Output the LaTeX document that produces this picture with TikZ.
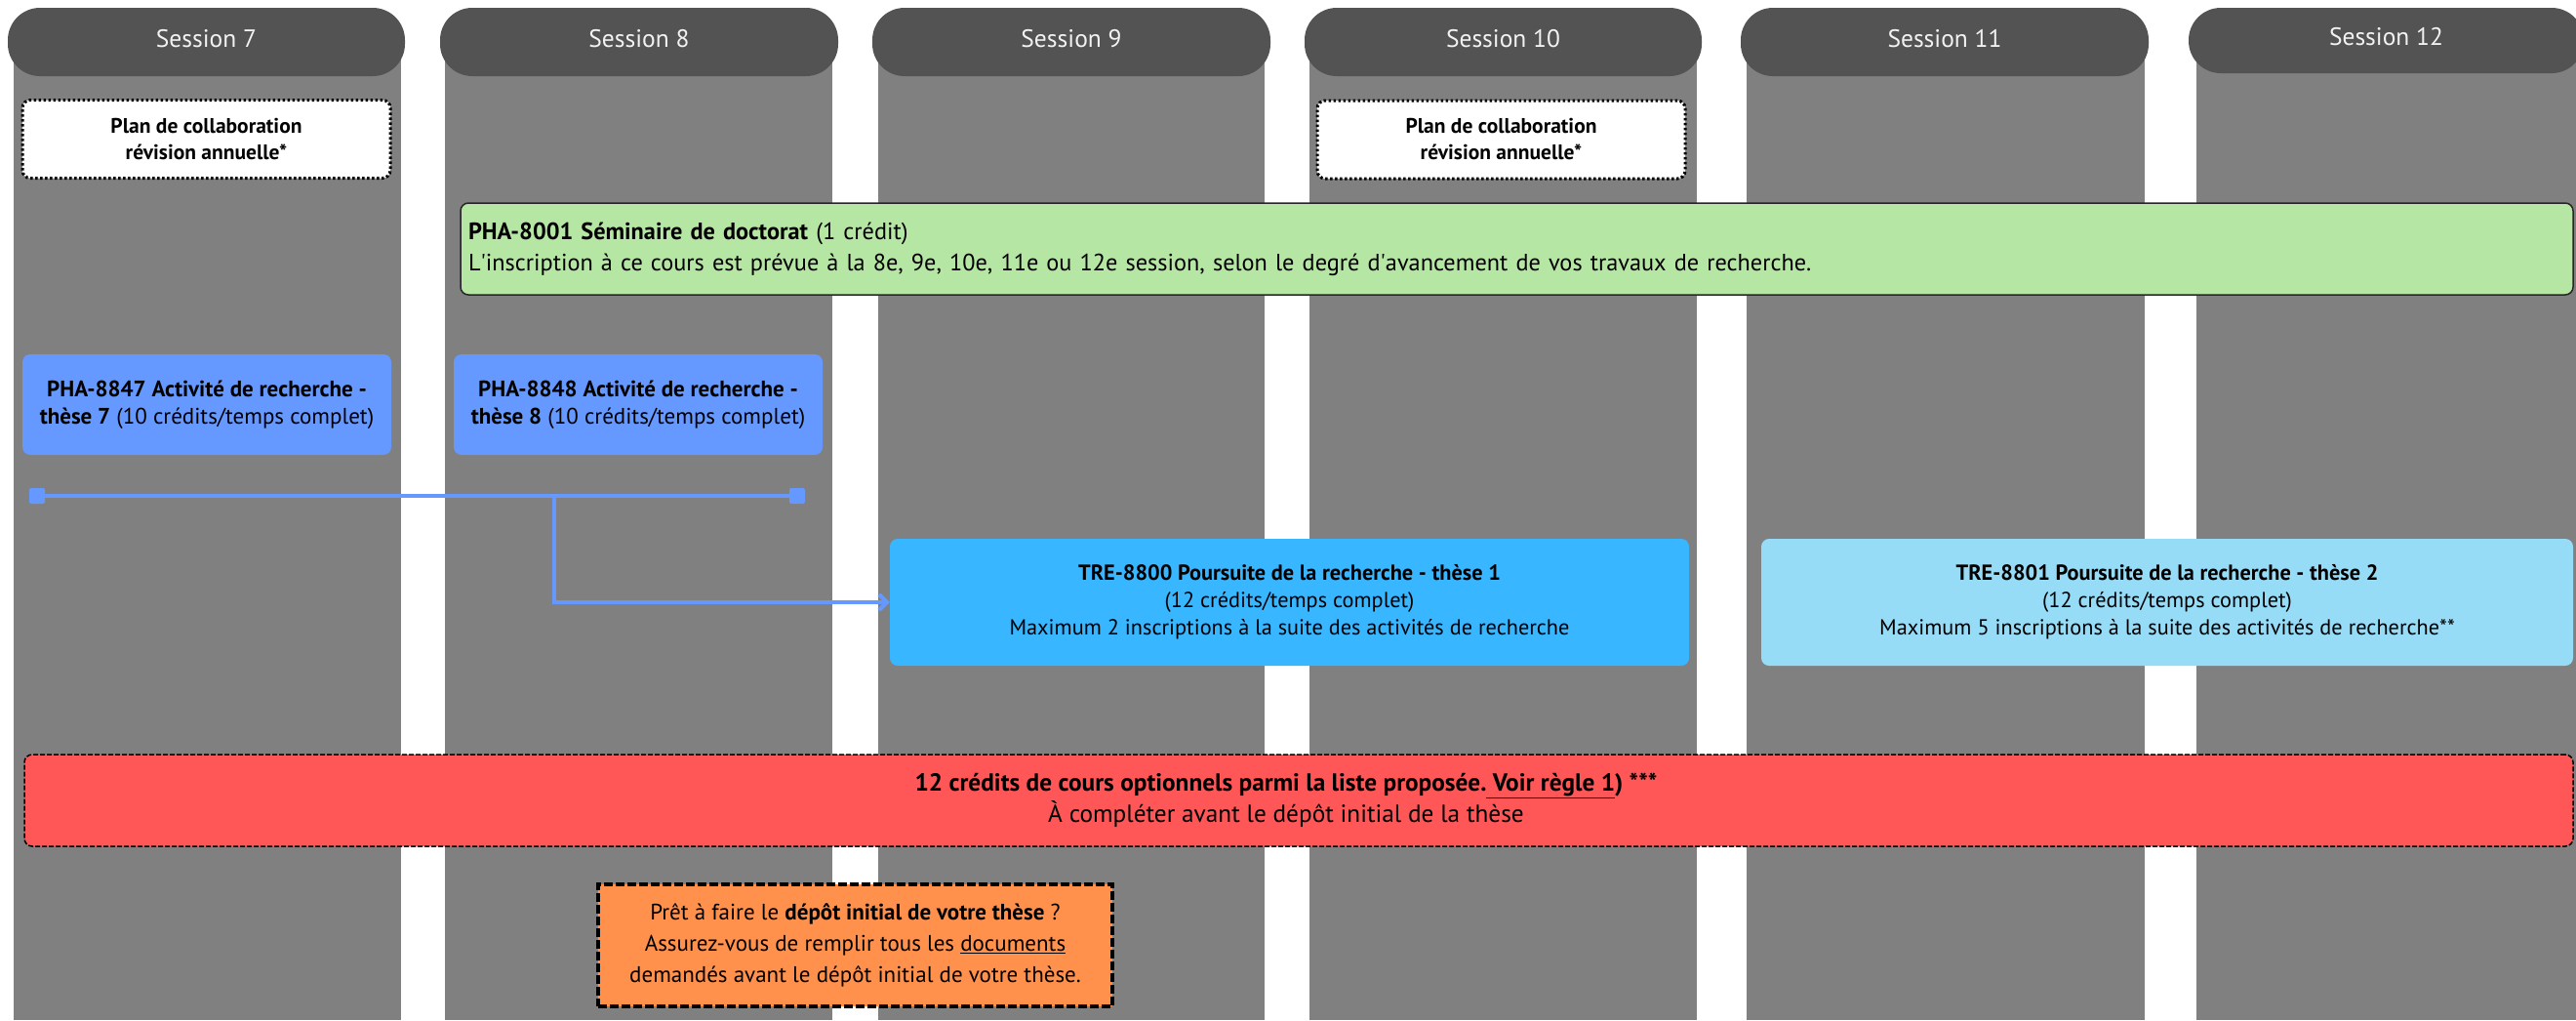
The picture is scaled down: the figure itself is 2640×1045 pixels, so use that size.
\documentclass[tikz,border=0pt]{standalone}
\usepackage{fontspec}
\setmainfont{PT Sans}
\usetikzlibrary{arrows.meta}
\definecolor{hdrgray}{RGB}{83,83,83}
\definecolor{colgray}{RGB}{128,128,128}
\definecolor{plangreen}{RGB}{182,230,164}
\definecolor{actblue}{RGB}{102,153,255}
\definecolor{treblue}{RGB}{56,182,255}
\definecolor{trelight}{RGB}{151,220,247}
\definecolor{optred}{RGB}{255,87,87}
\definecolor{depotorange}{RGB}{255,145,77}
\begin{document}
\begin{tikzpicture}[x=1pt,y=-1pt,
  lane/.style={fill=colgray},
  hdr/.style={fill=hdrgray, rounded corners=33pt, minimum height=70pt, inner sep=0pt,
    text=white!95!black, text height=17pt, text depth=7pt,
    font=\fontsize{25.5}{30}\selectfont},
  planbox/.style={fill=white, draw=black, line width=3pt, dash pattern=on 2.5pt off 2.5pt,
    rounded corners=8pt, minimum width=377pt, minimum height=80pt, inner sep=0pt,
    align=center, font=\bfseries\fontsize{21.5}{27}\selectfont},
  seminar/.style={fill=plangreen, draw=black!85, line width=1.5pt, rounded corners=8pt,
    minimum height=94pt, inner xsep=8pt, inner ysep=0pt, text width=2149pt, align=left,
    font=\fontsize{24.3}{32}\selectfont},
  activity/.style={fill=actblue, rounded corners=8pt, minimum width=378pt, minimum height=103pt,
    inner sep=0pt, align=center, font=\fontsize{23}{28}\selectfont},
  pursuit/.style={rounded corners=8pt, minimum height=130pt, inner sep=0pt, align=center,
    font=\fontsize{22.3}{28}\selectfont},
  optional/.style={fill=optred, draw=black, line width=1.5pt, dash pattern=on 5pt off 2pt,
    rounded corners=8pt, minimum width=2612pt, minimum height=94pt, inner sep=0pt,
    align=center, font=\fontsize{25.3}{32}\selectfont},
  depot/.style={fill=depotorange, draw=black, line width=4.5pt, dash pattern=on 9pt off 3pt,
    minimum width=527pt, minimum height=125pt, inner sep=0pt, align=center,
    font=\fontsize{23}{32}\selectfont},
  endsq/.style={fill=actblue, rounded corners=2pt, minimum size=16pt, inner sep=0pt},
  conn/.style={draw=actblue, line width=4pt}
]
\useasboundingbox (0,0) rectangle (2640,1045);
\fill[white] (0,0) rectangle (2640,1045);
\clip (0,0) rectangle (2640,1045);

% session lanes
\fill[lane] (14,40) rectangle (411,1045);
\fill[lane] (456,40) rectangle (853,1045);
\fill[lane] (900,40) rectangle (1296,1045);
\fill[lane] (1342,40) rectangle (1739,1045);
\fill[lane] (1790,40) rectangle (2198,1045);
\fill[lane] (2251,40) rectangle (2660,1045);

% session headers
\node[hdr, minimum width=407pt] (h7) at (211.5,43) {Session 7};
\node[hdr, minimum width=408pt] (h8) at (655,43) {Session 8};
\node[hdr, minimum width=408pt] (h9) at (1098,43) {Session 9};
\node[hdr, minimum width=407pt] (h10) at (1540.5,43) {Session 10};
\node[hdr, minimum width=418pt] (h11) at (1993,43) {Session 11};
\node[hdr, minimum width=405pt, minimum height=67pt] (h12) at (2445.5,41.5) {Session 12};

% collaboration plan
\node[planbox] (plan7) at (211.5,142.5) {Plan de collaboration\\révision annuelle*};
\node[planbox] (plan10) at (1538.5,143) {Plan de collaboration\\révision annuelle*};

% seminar
\node[seminar] (sem) at (1554.5,255) {\textbf{PHA-8001 Séminaire de doctorat} (1 crédit)\\
L\textquotesingle inscription à ce cours est prévue à la 8e, 9e, 10e, 11e ou 12e session, selon le degré d\textquotesingle avancement de vos travaux de recherche.};

% research activities
\node[activity] (act7) at (212,414.5) {\textbf{PHA-8847 Activité de recherche -}\\\textbf{thèse 7} (10 crédits/temps complet)};
\node[activity] (act8) at (654,414.5) {\textbf{PHA-8848 Activité de recherche -}\\\textbf{thèse 8} (10 crédits/temps complet)};

% pursuit
\node[pursuit, fill=treblue, minimum width=819pt] (tre1) at (1321.5,617) {\textbf{TRE-8800 Poursuite de la recherche - thèse 1}\\(12 crédits/temps complet)\\Maximum 2 inscriptions à la suite des activités de recherche};
\node[pursuit, fill=trelight, minimum width=832pt] (tre2) at (2221,617) {\textbf{TRE-8801 Poursuite de la recherche - thèse 2}\\(12 crédits/temps complet)\\Maximum 5 inscriptions à la suite des activités de recherche**};

% optional courses
\node[optional] (opt) at (1331,820) {\textbf{12 crédits de cours optionnels parmi la liste proposée.\underline{\ Voir règle 1}) ***}\hspace*{26pt}\\À compléter avant le dépôt initial de la thèse\hspace*{26pt}};

% initial deposit
\node[depot] (dep) at (876.5,968.5) {Prêt à faire le \textbf{dépôt initial de votre thèse} ?\\Assurez-vous de remplir tous les \underline{documents}\\demandés avant le dépôt initial de votre thèse.};

% connector
\node[endsq] (sqL) at (38,508) {};
\node[endsq] (sqR) at (817,508) {};
\coordinate (junc) at (568,508);
\draw[conn] (sqL.center) -- (sqR.center);
\draw[conn, -{Straight Barb[length=8pt,width=16pt]}] (junc) |- (tre1.west);
\end{tikzpicture}
\end{document}
